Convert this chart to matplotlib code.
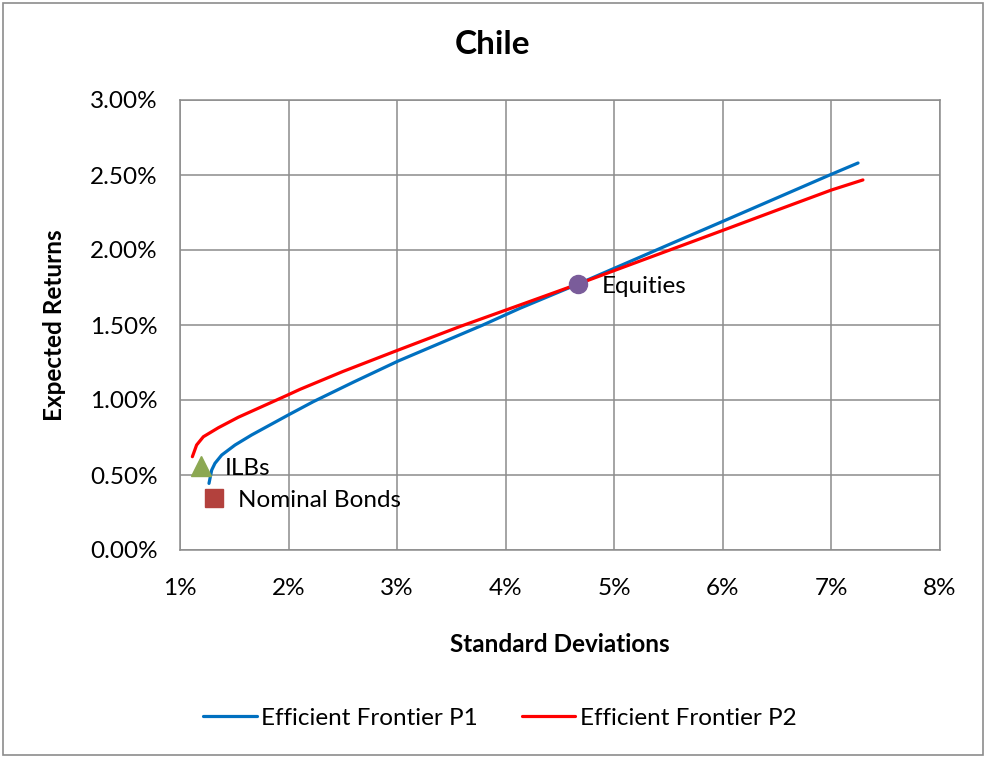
import matplotlib
matplotlib.use("Agg")
import matplotlib.pyplot as plt
from matplotlib.patches import Rectangle
from matplotlib.ticker import FuncFormatter

plt.rcParams['font.family'] = ['Lato', 'DejaVu Sans']

# Efficient frontier P1 (std dev %, expected return %)
p1_sd = [1.267, 1.292, 1.322, 1.384, 1.507, 1.66, 1.845, 1.997, 2.228, 2.6, 3.01,
         3.4, 3.79, 4.13, 4.666, 5.0, 5.5, 6.0, 6.5, 7.0, 7.245]
p1_ret = [0.444, 0.533, 0.578, 0.633, 0.70, 0.767, 0.84, 0.90, 0.989, 1.12, 1.26,
          1.38, 1.50, 1.611, 1.773, 1.878, 2.035, 2.191, 2.348, 2.505, 2.58]

# Efficient frontier P2
p2_sd = [1.114, 1.153, 1.215, 1.353, 1.537, 1.752, 1.982, 2.105, 2.5, 3.01, 3.579,
         4.13, 4.666, 5.0, 5.5, 6.0, 6.5, 7.0, 7.29]
p2_ret = [0.622, 0.70, 0.755, 0.815, 0.885, 0.955, 1.03, 1.071, 1.19, 1.333, 1.49,
          1.633, 1.773, 1.863, 1.997, 2.131, 2.266, 2.40, 2.467]

# Individual asset classes
assets = ["ILBs", "Nominal Bonds", "Equities"]
asset_sd = [1.193, 1.313, 4.666]
asset_ret = [0.56, 0.347, 1.773]
asset_markers = ["^", "s", "o"]
asset_colors = ["#8CA852", "#B3413D", "#7A5C9A"]

x_ticks = [1, 2, 3, 4, 5, 6, 7, 8]
y_ticks = [0.0, 0.5, 1.0, 1.5, 2.0, 2.5, 3.0]

W, H = 986, 758
fig = plt.figure(figsize=(W / 100, H / 100), dpi=100)
fig.patches.append(Rectangle((0.003, 0.004), 0.994, 0.992, transform=fig.transFigure,
                             fill=False, edgecolor="#8C8C8C", linewidth=1.2))

ax = fig.add_axes([180 / W, 1 - 550 / H, 760 / W, 450 / H])
grid_c = "#8C8C8C"
ax.set_xlim(1, 8)
ax.set_ylim(0, 3)
ax.set_xticks(x_ticks)
ax.set_yticks(y_ticks)
ax.xaxis.set_major_formatter(FuncFormatter(lambda v, p: f"{v:.0f}%"))
ax.yaxis.set_major_formatter(FuncFormatter(lambda v, p: f"{v:.2f}%"))
ax.grid(True, color=grid_c, linewidth=1.1)
ax.set_axisbelow(True)
for s in ax.spines.values():
    s.set_color(grid_c)
    s.set_linewidth(1.1)
ax.tick_params(length=0, labelsize=17.5, colors="black")
ax.tick_params(axis="x", pad=20)
ax.tick_params(axis="y", pad=16)

l1, = ax.plot(p1_sd, p1_ret, color="#0070C0", linewidth=2.3, label="Efficient Frontier P1",
              solid_capstyle="round", solid_joinstyle="round", zorder=3)
l2, = ax.plot(p2_sd, p2_ret, color="#FF0000", linewidth=2.3, label="Efficient Frontier P2",
              solid_capstyle="round", solid_joinstyle="round", zorder=3)

for name, sx, ry, m, c in zip(assets, asset_sd, asset_ret, asset_markers, asset_colors):
    ms = 13 if m != "^" else 14
    ax.plot([sx], [ry], marker=m, markersize=ms, color=c, linestyle="none", zorder=4)
    ax.annotate(name, (sx, ry), xytext=(17, -2), textcoords="offset points",
                fontsize=17.5, va="center", ha="left")

fig.text(493 / W, 1 - 45 / H, "Chile", fontsize=24, fontweight="bold",
         ha="center", va="center")
fig.text(560 / W, 1 - 645 / H, "Standard Deviations", fontsize=17.5, fontweight="bold",
         ha="center", va="center")
fig.text(55 / W, 1 - 325 / H, "Expected Returns", fontsize=17.5, fontweight="bold",
         ha="center", va="center", rotation=90)

fig.legend(handles=[l1, l2], loc="center", bbox_to_anchor=(500 / W, 1 - 718 / H), ncol=2,
           frameon=False, fontsize=17.5, handlelength=2.2, columnspacing=1.8,
           handletextpad=0.2)

fig.savefig("out.png", dpi=100)
